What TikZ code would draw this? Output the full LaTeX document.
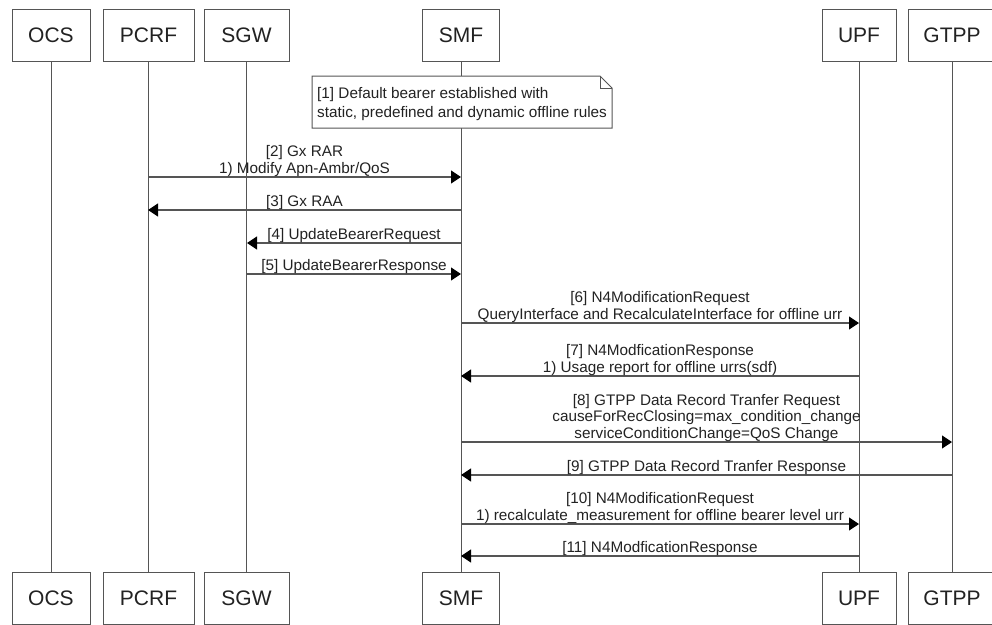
\documentclass[tikz,border=0pt]{standalone}
\usepackage{fontspec}
\setmainfont{Liberation Sans}
\usetikzlibrary{arrows.meta}
\definecolor{ln}{HTML}{555555}
\definecolor{tx}{HTML}{222222}
\begin{document}
\begin{tikzpicture}[x=1pt,y=-1pt,
  actor/.style={draw=ln, line width=1pt, fill=white, minimum height=52pt, inner sep=0pt, text=tx, font=\fontsize{21}{24}\selectfont},
  life/.style={draw=ln, line width=1pt},
  msg/.style={draw=ln, line width=1.1pt, -{Triangle[length=10pt,width=13pt,color=black]}},
  lbl/.style={anchor=south, inner sep=0pt, text depth=0pt, align=center, text=tx, font=\fontsize{15.3}{16.5}\selectfont},
  notebox/.style={draw=ln, line width=1pt, fill=white}
]
\useasboundingbox (0,0) rectangle (992,624);
% top actors
\node[actor, minimum width=78pt] (ocsT) at (51,35) {OCS};
\node[actor, minimum width=91pt] (pcrfT) at (148.5,35) {PCRF};
\node[actor, minimum width=85pt] (sgwT) at (246.5,35) {SGW};
\node[actor, minimum width=77pt] (smfT) at (461,35) {SMF};
\node[actor, minimum width=74pt] (upfT) at (859,35) {UPF};
\node[actor, minimum width=88pt] (gtppT) at (952,35) {GTPP};
% bottom actors
\node[actor, minimum width=78pt] (ocsB) at (51,598) {OCS};
\node[actor, minimum width=91pt] (pcrfB) at (148.5,598) {PCRF};
\node[actor, minimum width=85pt] (sgwB) at (246.5,598) {SGW};
\node[actor, minimum width=77pt] (smfB) at (461,598) {SMF};
\node[actor, minimum width=74pt] (upfB) at (859,598) {UPF};
\node[actor, minimum width=88pt] (gtppB) at (952,598) {GTPP};
% lifelines
\draw[life] (ocsT) -- (ocsB);
\draw[life] (pcrfT) -- (pcrfB);
\draw[life] (sgwT) -- (sgwB);
\draw[life] (smfT) -- (smfB);
\draw[life] (upfT) -- (upfB);
\draw[life] (gtppT) -- (gtppB);
% note
\draw[notebox] (312,76) -- (600,76) -- (612,88) -- (612,128) -- (312,128) -- cycle;
\draw[ln, line width=0.8pt] (600,76) -- (600,88) -- (612,88);
\node[anchor=base west, inner sep=0pt, align=left, text=tx, font=\fontsize{15.3}{19}\selectfont] (note) at (317,117)
  {[1] Default bearer established with\\static, predefined and dynamic offline rules};
% coordinates for messages
\coordinate (pcrf2) at (148,177); \coordinate (smf2) at (461,177);
\coordinate (smf3) at (461,210); \coordinate (pcrf3) at (148,210);
\coordinate (smf4) at (461,243); \coordinate (sgw4) at (247,243);
\coordinate (sgw5) at (247,274); \coordinate (smf5) at (461,274);
\coordinate (smf6) at (461,323); \coordinate (upf6) at (859,323);
\coordinate (upf7) at (859,376); \coordinate (smf7) at (461,376);
\coordinate (smf8) at (461,442); \coordinate (gtpp8) at (952,442);
\coordinate (gtpp9) at (952,475); \coordinate (smf9) at (461,475);
\coordinate (smf10) at (461,524); \coordinate (upf10) at (859,524);
\coordinate (upf11) at (859,556); \coordinate (smf11) at (461,556);
% messages
\draw[msg] (pcrf2) -- node[lbl, above=3pt] {[2] Gx RAR\\1) Modify Apn-Ambr/QoS} (smf2);
\draw[msg] (smf3) -- node[lbl, above=3pt] {[3] Gx RAA} (pcrf3);
\draw[msg] (smf4) -- node[lbl, above=3pt] {[4] UpdateBearerRequest} (sgw4);
\draw[msg] (sgw5) -- node[lbl, above=3pt] {[5] UpdateBearerResponse} (smf5);
\draw[msg] (smf6) -- node[lbl, above=3pt] {[6] N4ModificationRequest\\QueryInterface and RecalculateInterface for offline urr} (upf6);
\draw[msg] (upf7) -- node[lbl, above=3pt] {[7] N4ModficationResponse\\1) Usage report for offline urrs(sdf)} (smf7);
\draw[msg] (smf8) -- node[lbl, above=3pt] {[8] GTPP Data Record Tranfer Request\\causeForRecClosing=max\_condition\_change\\serviceConditionChange=QoS Change} (gtpp8);
\draw[msg] (gtpp9) -- node[lbl, above=3pt] {[9] GTPP Data Record Tranfer Response} (smf9);
\draw[msg] (smf10) -- node[lbl, above=3pt] {[10] N4ModificationRequest\\1) recalculate\_measurement for offline bearer level urr} (upf10);
\draw[msg] (upf11) -- node[lbl, above=3pt] {[11] N4ModficationResponse} (smf11);
\end{tikzpicture}
\end{document}
